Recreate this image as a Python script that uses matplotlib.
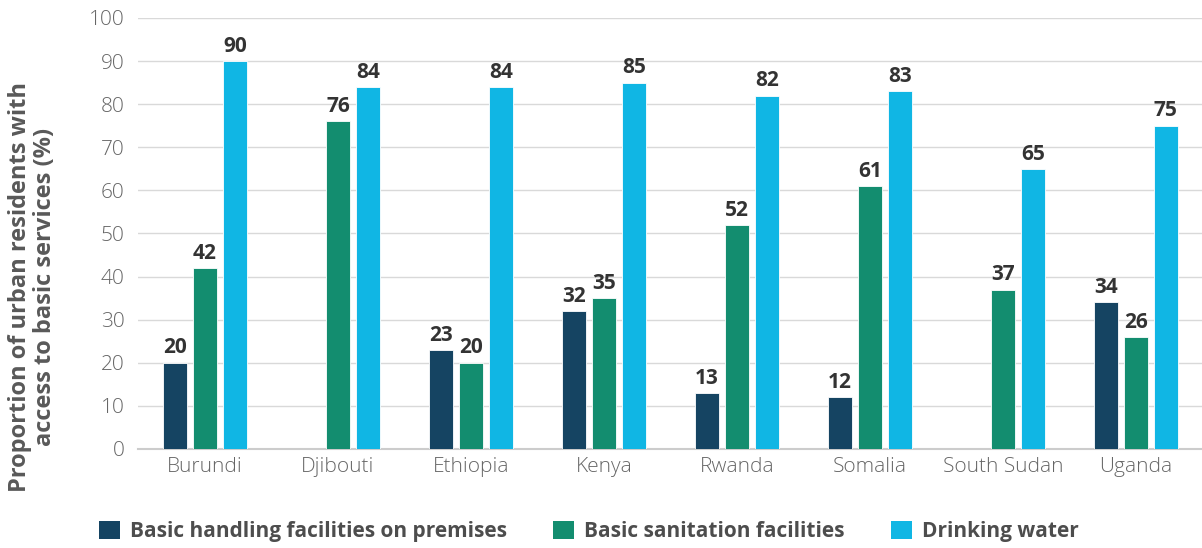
import matplotlib.pyplot as plt
from matplotlib.patches import Patch
import numpy as np

plt.rcParams['font.family'] = ['Open Sans', 'DejaVu Sans']

countries = ['Burundi', 'Djibouti', 'Ethiopia', 'Kenya', 'Rwanda',
             'Somalia', 'South Sudan', 'Uganda']
handling = [20, np.nan, 23, 32, 13, 12, np.nan, 34]
sanitation = [42, 76, 20, 35, 52, 61, 37, 26]
water = [90, 84, 84, 85, 82, 83, 65, 75]

series = [
    ('Basic handling facilities on premises', handling, '#154462'),
    ('Basic sanitation facilities', sanitation, '#138d6f'),
    ('Drinking water', water, '#10b6e4'),
]

fig = plt.figure(figsize=(12.02, 5.48), dpi=100)
ax = fig.add_axes([0.1152, 0.1807, 0.885, 0.7865])

x = np.arange(len(countries))
width = 0.18
offsets = [-0.225, 0, 0.225]

for (label, vals, color), off in zip(series, offsets):
    vals = np.array(vals, dtype=float)
    ax.bar(x + off, vals, width, color=color, edgecolor='white', linewidth=0.6,
           zorder=3, label=label)
    for xi, v in zip(x, vals):
        if not np.isnan(v):
            ax.text(xi + off, v + 1.0, f'{int(v)}', ha='center', va='bottom',
                    fontsize=15, fontweight='bold', color='#333333')

ax.set_xlim(-0.5, len(countries) - 0.5)
ax.set_ylim(0, 100)
ax.set_yticks(range(0, 101, 10))
ax.set_xticks(x)
ax.set_xticklabels(countries)
ax.tick_params(axis='both', length=0, labelsize=15, labelcolor='#666666')
ax.tick_params(axis='x', pad=6)
ax.tick_params(axis='y', pad=10)
for lbl in ax.get_xticklabels() + ax.get_yticklabels():
    lbl.set_fontweight('light')

ax.grid(axis='y', color='#d9d9d9', linewidth=1, zorder=0)
for s in ['top', 'right', 'left']:
    ax.spines[s].set_visible(False)
ax.spines['bottom'].set_color('#cccccc')
ax.spines['bottom'].set_linewidth(1.5)

fig.text(0.027, 0.476, 'Proportion of urban residents with\naccess to basic services (%)',
         rotation=90, ha='center', va='center', fontsize=17, fontweight='bold',
         color='#595959', linespacing=1.05)

handles = [Patch(facecolor=c, label=l) for l, _, c in series]
fig.legend(handles=handles, loc='center', bbox_to_anchor=(0.49, 0.03), ncol=3,
           frameon=False, handlelength=1.0, handleheight=1.0, handletextpad=0.5,
           columnspacing=2.2, prop={'size': 15, 'weight': 'bold'},
           labelcolor='#4d4d4d')

fig.savefig('out.png', dpi=100, facecolor='white')
